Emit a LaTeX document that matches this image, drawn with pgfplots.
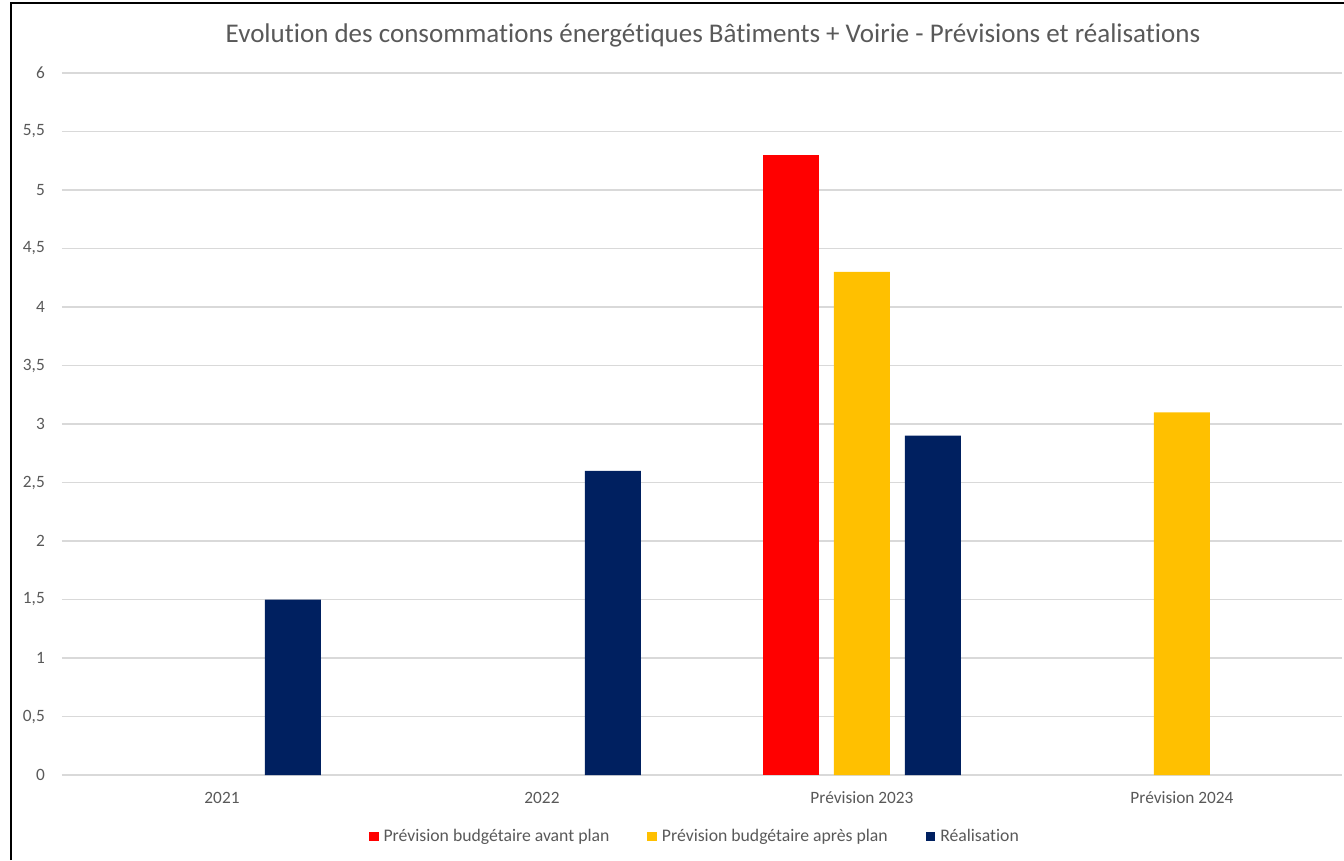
\documentclass[border=0pt]{standalone}
\usepackage{pgfplots}
\pgfplotsset{compat=1.18}
\usepackage{fontspec}
\setmainfont[Ligatures=NoCommon]{Carlito}
\definecolor{cred}{HTML}{FF0000}
\definecolor{cyel}{HTML}{FFC000}
\definecolor{cnavy}{HTML}{002060}
\definecolor{tgray}{HTML}{595959}
\definecolor{ggray}{HTML}{D9D9D9}
\begin{document}
\begin{tikzpicture}
\path[use as bounding box] (0,0) rectangle (1344pt,860pt);
\draw[line width=2pt,black] (11pt,0pt) -- (11pt,856.5pt) -- (1344pt,856.5pt);
\begin{axis}[
  at={(62pt,85pt)}, anchor=south west,
  scale only axis, width=1280pt, height=702pt,
  xmin=-0.5, xmax=3.5, ymin=0, ymax=6,
  ytick distance=0.5,
  xtick={0,1,2,3},
  xticklabels={2021,2022,Prévision 2023,Prévision 2024},
  axis line style={draw=none},
  major tick length=0pt,
  ymajorgrids, grid style={ggray, line width=1.5pt},
  /pgf/number format/assume math mode=true,
  /pgf/number format/use comma,
  /pgf/number format/1000 sep={},
  ticklabel style={font=\fontsize{17.3}{20}\selectfont, text=tgray},
  yticklabel style={anchor=east, inner sep=0pt, xshift=-17pt},
  xticklabel style={anchor=base, inner sep=0pt, yshift=-28pt},
  ybar, bar width=56pt,
  title={Evolution des consommations énergétiques Bâtiments + Voirie - Prévisions et réalisations},
  title style={at={(0.5086,1.0342)}, anchor=base, inner sep=0pt, font=\fontsize{27}{32}\selectfont, text=tgray},
  legend columns=3,
  legend style={at={(0.4945,-0.0875)}, anchor=center, draw=none, fill=none,
    font=\fontsize{17.7}{21}\selectfont, text=tgray,
    /tikz/every even column/.append style={column sep=36pt}},
  legend image code/.code={\fill[#1] (0pt,-4.75pt) rectangle (9.5pt,4.75pt); \path (12.5pt,0pt);},
]
\addplot[fill=cred, draw=none, bar shift=-71pt] coordinates {(2,5.3)};
\addlegendentry{Prévision budgétaire avant plan}
\addplot[fill=cyel, draw=none, bar shift=0pt] coordinates {(2,4.3) (3,3.1)};
\addlegendentry{Prévision budgétaire après plan}
\addplot[fill=cnavy, draw=none, bar shift=71pt] coordinates {(0,1.5) (1,2.6) (2,2.9)};
\addlegendentry{Réalisation}
\end{axis}
\end{tikzpicture}
\end{document}
